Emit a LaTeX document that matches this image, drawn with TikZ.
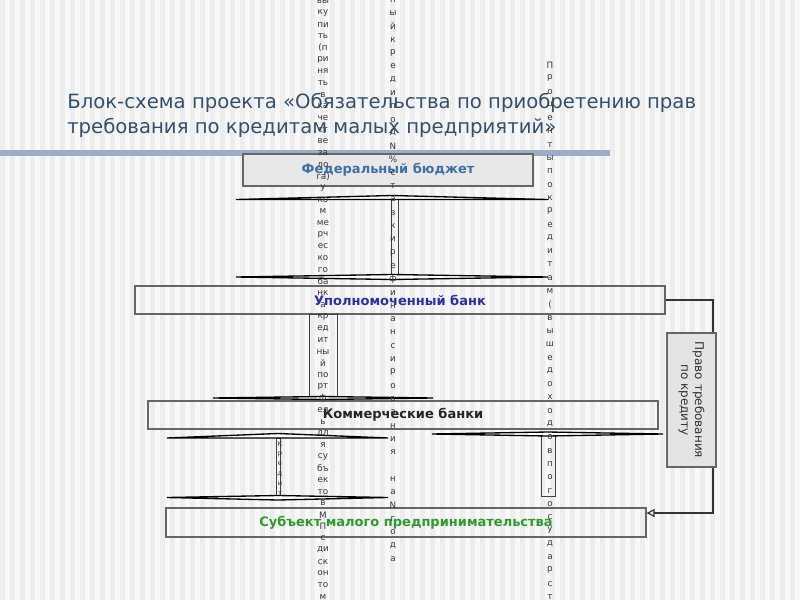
\documentclass[tikz,border=0pt]{standalone}
\usepackage{fontspec}
\setmainfont{DejaVu Sans}
\usetikzlibrary{arrows.meta,positioning}

\definecolor{titleblue}{HTML}{33506F}
\definecolor{bandblue}{HTML}{98AFCC}
\definecolor{fedblue}{HTML}{3D6FA8}
\definecolor{bankblue}{HTML}{2B2DB5}
\definecolor{smegreen}{HTML}{2E9B2E}
\definecolor{paper}{HTML}{F8F8F8}
\definecolor{stripe}{HTML}{EDEDED}

\begin{document}
\begin{tikzpicture}[
  x=0.75pt, y=-0.75pt,
  % ---- boxes -------------------------------------------------------------
  block/.style={draw=black!60, line width=0.8pt, inner sep=0pt,
    font=\bfseries\fontsize{9.75pt}{11pt}\selectfont},
  fedbox/.style={block, fill=black!9, text=fedblue,
    minimum width=217.5pt, minimum height=24pt},
  uplbox/.style={block, text=bankblue, minimum width=397.5pt, minimum height=21pt},
  kombox/.style={block, text=black!85, minimum width=382.5pt, minimum height=21pt},
  subbox/.style={block, text=smegreen, minimum width=360pt, minimum height=21.75pt},
  rightbox/.style={draw=black!60, line width=0.8pt, fill=black!11, inner sep=0pt,
    align=center, text=black!80, font=\fontsize{9pt}{10.5pt}\selectfont,
    minimum width=100.5pt, minimum height=36.75pt},
  % ---- broken block arrows -----------------------------------------------
  shaft/.style={draw=black!75, line width=0.7pt},
  head/.style={draw=black, line width=1pt, fill=white},
  colchar/.style={inner sep=0pt, text=black!78, font=\fontsize{6.6pt}{7pt}\selectfont},
  link/.style={draw=black!80, line width=0.9pt},
]

% ---- page background --------------------------------------------------------
\clip (0,0) rectangle (800,600);
\fill[paper] (0,0) rectangle (800,600);
\foreach \sx in {0,10,...,790}
  { \fill[stripe] (\sx,0) rectangle (\sx+5,600); }

% ---- title ------------------------------------------------------------------
\node[anchor=north west, align=left, inner sep=0pt, text=titleblue,
  font=\fontsize{14.75pt}{18.75pt}\selectfont] (title) at (67,93)
  {Блок-схема проекта «Обязательства по приобретению прав\\требования по кредитам малых предприятий»};
\fill[bandblue] (0,150) rectangle (610,156);

% ---- boxes --------------------------------------------------------------------
\node[fedbox] (fed) at (388,170) {Федеральный бюджет};
\node[uplbox] (upl) at (400,300) {Уполномоченный банк};
\node[kombox] (kom) at (403,415) {Коммерческие банки};
\node[subbox] (sub) at (406,522.5) {Субъект малого предпринимательства};
\node[rightbox, rotate=-90] (prv) at (691.5,400) {Право требования\\по кредиту};

% ---- block arrows (flattened) ----------------------------------------------------
% federal budget -> authorised bank
\draw[shaft] (391,199) rectangle (398,277);
\draw[head] (236,199.5) -- (392,195.5) -- (548,199.5) -- cycle;
\draw[head] (236,277) -- (392,274.5) -- (548,277) -- (392,279.5) -- cycle;
% authorised bank -> commercial banks
\draw[shaft] (309,314) rectangle (337,398);
\draw[head] (213,398) -- (323,396.5) -- (433,398) -- (323,399.5) -- cycle;
% commercial banks -> small business (credit)
\draw[shaft] (276,438) rectangle (280,498);
\draw[head] (167,438) -- (278,433.5) -- (388,438) -- cycle;
\draw[head] (167,497.5) -- (278,495.5) -- (388,497.5) -- (278,500) -- cycle;
% small business -> commercial banks (interest)
\draw[shaft] (541,434) rectangle (555,496);
\draw[head] (432,434) -- (548,432) -- (663,434) -- (548,436) -- cycle;

% ---- arrow labels, set one character per line --------------------------------
\foreach \ch [count=\i from 0] in {вы,ку,пи,ть,{(п},ри,ня,ть,в,ка,че,ст,ве,за,ло,га),у,ко,м,ме,рч,ес,ко,го,ба,нк,а,кр,ед,ит,ны,й,по,рт,ф,ел,ь,дл,я,су,бъ,ек,то,в,М,П,с,ди,ск,он,то,м}
  { \node[colchar] (ca\i) at (323,1.5+\i*11.67) {\ch}; }
\foreach \ch [count=\i from 0] in {н,ы,й,к,р,е,д,и,п,о,д,N,\%,с,т,а,в,к,и,р,е,ф,и,н,а,н,с,и,р,о,в,а,н,и,я,{},н,а,N,г,о,д,а}
  { \node[colchar] (cb\i) at (393,0+\i*13.3) {\ch}; }
\foreach \ch [count=\i from 0] in {П,р,о,ц,е,н,т,ы,п,о,к,р,е,д,и,т,а,м,{(},в,ы,ш,е,д,о,х,о,д,о,в,п,о,г,о,с,у,д,а,р,с,т}
  { \node[colchar] (cc\i) at (550,65+\i*13.3) {\ch}; }
\foreach \ch [count=\i from 0] in {К,р,е,д,и,т}
  { \node[colchar, font=\fontsize{5pt}{6pt}\selectfont] (cd\i) at (280,444+\i*10) {\ch}; }

% ---- right-hand loop ----------------------------------------------------------------
\draw[link] (upl.east) -| ([xshift=16.1pt]prv.west);
\draw[link, -{Triangle[open, length=6pt, width=6pt]}]
  ([xshift=16.1pt]prv.east) |- ([yshift=7.1pt]sub.east);

\end{tikzpicture}
\end{document}
